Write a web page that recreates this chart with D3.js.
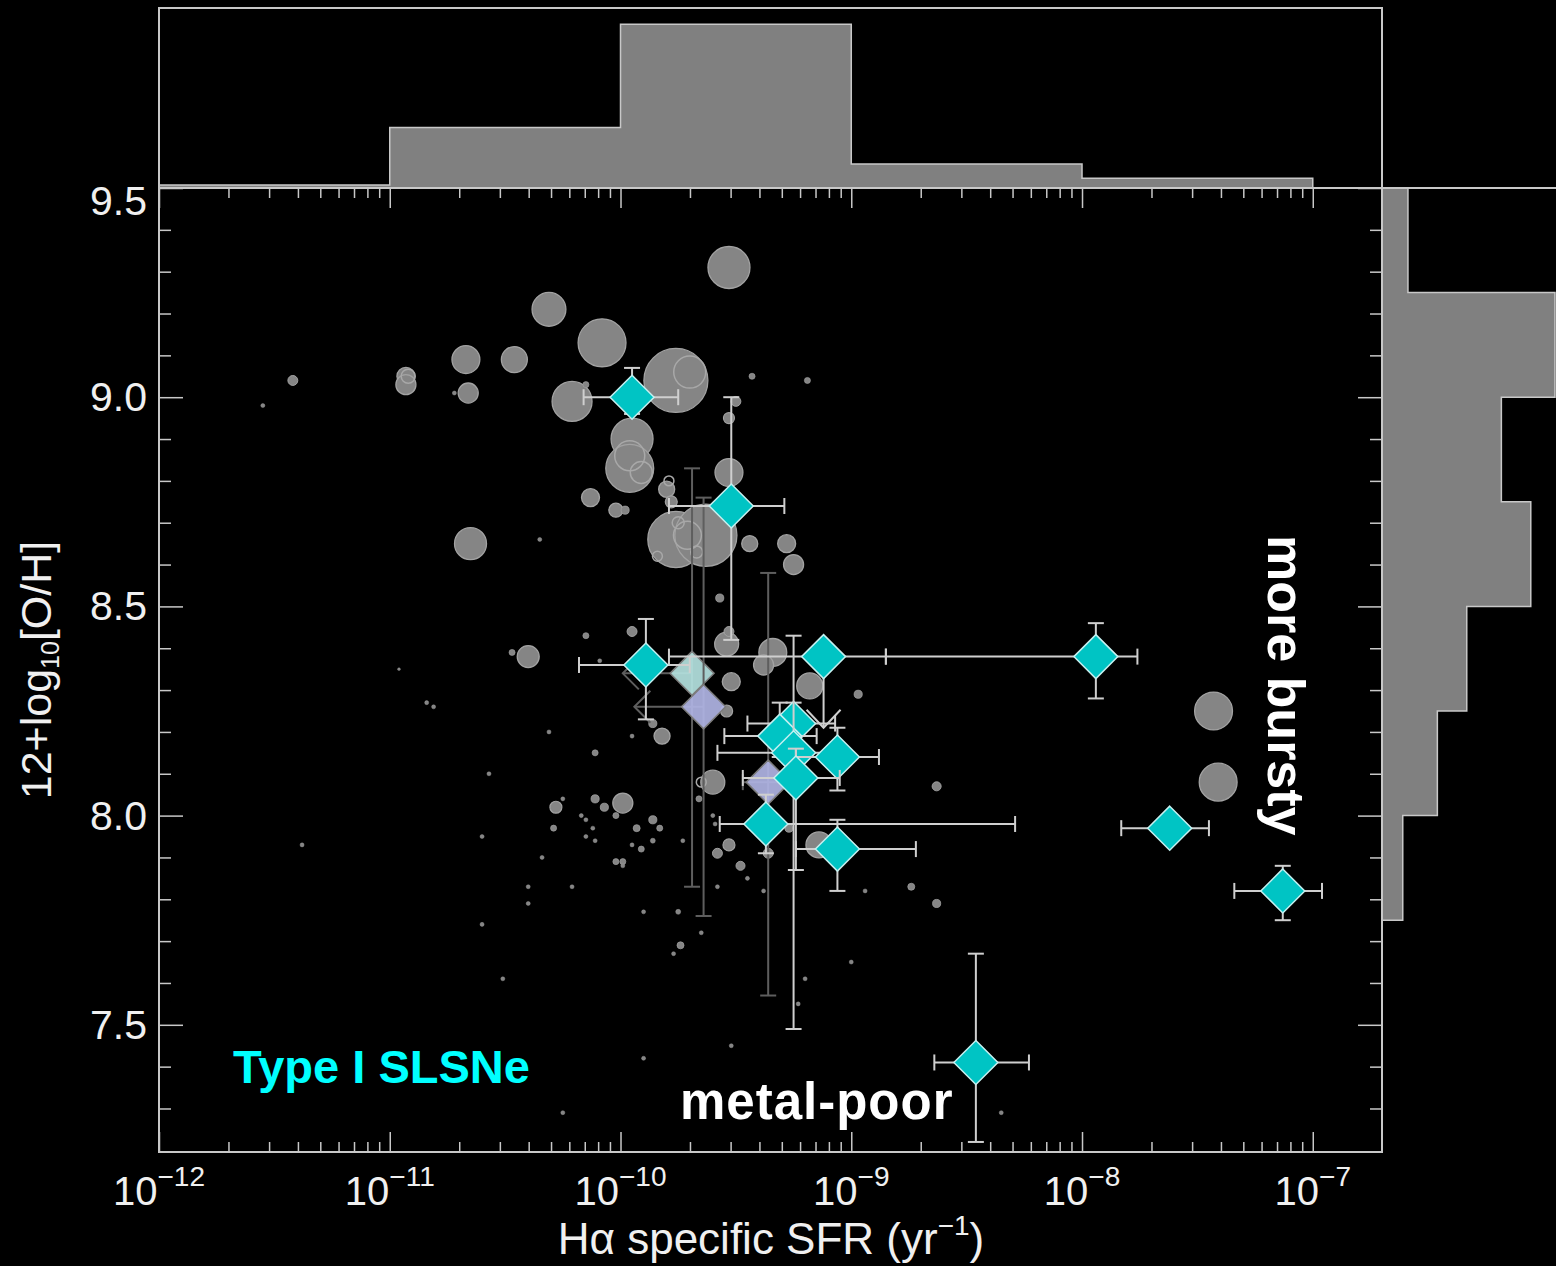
<!DOCTYPE html>
<html>
<head>
<meta charset="utf-8">
<script src="https://cdn.jsdelivr.net/npm/d3@7"></script>
<style>
  html, body { margin: 0; background: #000; }
  svg { display: block; }
</style>
</head>
<body>
<div id="chart"></div>
<script>
// ---------- data ----------
// axis ticks
const decades = [1e-12, 1e-11, 1e-10, 1e-9, 1e-8, 1e-7];
const decadeExponents = ["\u221212", "\u221211", "\u221210", "\u22129", "\u22128", "\u22127"];
const ohMajorTicks = [7.5, 8.0, 8.5, 9.0, 9.5];
const ohLabels = ["7.5", "8.0", "8.5", "9.0", "9.5"];

// top histogram (sSFR, normalised)
const sfrHistEdges = [1e-12, 1e-11, 1e-10, 1e-9, 1e-8, 1e-7];
const sfrHistValues = [0.018, 0.37, 1.0, 0.146, 0.06];

// side histogram (metallicity, normalised)
const ohHistEdges = [9.5, 9.25, 9.0, 8.75, 8.5, 8.25, 8.0, 7.75];
const ohHistValues = [0.15, 1.0, 0.69, 0.86, 0.49, 0.32, 0.12];

// comparison host galaxies (log sSFR, 12+log O/H, relative mass for bubble size)
const hostLogSsfr = [-9.53, -10.31, -10.08, -10.67, -10.46, -9.76, -10.93, -10.93, -10.66, -10.72,
  -10.21, -10.15, -9.95, -9.96, -9.43, -9.19, -9.50, -9.53, -9.53, -10.13,
  -10.02, -9.98, -9.80, -9.78, -10.65, -10.35, -9.76, -9.63, -9.44, -9.28,
  -9.25, -9.57, -11.42, -11.55, -10.96, -10.47, -10.40, -10.15, -10.09, -9.95,
  -9.54, -9.53, -9.34, -9.38, -9.52, -9.18, -8.97, -9.54, -9.82, -9.86,
  -9.95, -10.31, -10.11, -10.57, -10.84, -10.81, -9.60, -9.66, -10.28, -10.25,
  -10.11, -10.07, -9.99, -10.02, -10.17, -10.15, -10.29, -10.12, -10.15, -10.11,
  -9.93, -9.86, -9.83, -9.95, -9.91, -9.86, -10.02, -9.99, -9.99, -9.73,
  -9.60, -9.59, -9.58, -9.53, -9.48, -9.45, -9.36, -9.27, -9.14, -9.58,
  -9.38, -8.94, -10.40, -10.21, -10.40, -10.60, -10.60, -10.34, -9.90, -9.75,
  -9.65, -9.74, -9.77, -10.51, -9.20, -9.00, -11.38, -10.25, -9.90, -9.52,
  -8.35, -9.23, -8.74, -8.63, -8.63, -7.43, -7.41];
const hostOH = [9.31, 9.21, 9.13, 9.09, 9.09, 9.04, 9.05, 9.03, 9.01, 9.01,
  8.99, 9.03, 8.90, 8.83, 9.05, 9.04, 8.99, 8.95, 8.82, 8.76,
  8.73, 8.73, 8.78, 8.75, 8.65, 8.66, 8.66, 8.67, 8.65, 8.65,
  8.60, 8.52, 9.04, 8.98, 8.35, 8.39, 8.38, 8.43, 8.37, 8.44,
  8.41, 8.44, 8.39, 8.36, 8.32, 8.31, 8.29, 8.25, 8.19, 8.22,
  8.19, 8.20, 8.15, 8.10, 8.27, 8.26, 8.08, 8.04, 8.02, 8.04,
  8.04, 8.02, 8.03, 8.00, 8.00, 7.99, 7.97, 7.97, 7.95, 7.94,
  7.97, 7.99, 7.97, 7.93, 7.92, 7.94, 7.89, 7.89, 7.88, 7.94,
  8.00, 7.98, 7.91, 7.93, 7.88, 7.85, 7.91, 7.97, 7.93, 7.83,
  7.82, 7.82, 7.83, 7.83, 7.79, 7.95, 7.74, 7.90, 7.77, 7.77,
  7.72, 7.69, 7.67, 7.61, 7.61, 7.65, 7.93, 7.29, 7.42, 7.45,
  7.29, 7.55, 7.83, 7.79, 8.07, 8.25, 8.08];
const hostMass = [43, 28, 56, 19, 16.5, 100, 7.9, 9.8, 9.8, 0.4,
  39, 0.9, 43, 56, 0.9, 0.9, 2.4, 3, 19, 7.9,
  4.8, 1.6, 6.3, 3.5, 25, 0.4, 77, 94, 6.3, 7.9,
  9.8, 1.6, 2.4, 0.4, 0.2, 0.9, 11.8, 0.9, 0.4, 2.4,
  14, 2.4, 19, 9.8, 7.9, 16.5, 1.6, 3.5, 6.3, 1.6,
  0.4, 0.4, 0.9, 0.4, 0.4, 0.4, 14, 0.9, 3.5, 0.4,
  1.6, 1.6, 9.8, 0.9, 0.4, 0.4, 0.9, 0.4, 0.4, 0.4,
  1.2, 1.6, 0.9, 0.4, 0.9, 0.6, 0.9, 0.9, 0.4, 0.4,
  0.4, 0.4, 2.4, 3.5, 2, 0.4, 2.4, 1.6, 16.5, 0.4,
  0.4, 0.4, 0.4, 0.4, 0.4, 0.4, 0.4, 0.4, 0.4, 0.6,
  0.4, 1.2, 0.4, 0.4, 0.4, 0.4, 0.4, 0.4, 0.4, 0.4,
  0.4, 0.4, 1.2, 1.6, 2, 35, 35];

// overlapping hosts shown as outlines
const outlineLogSsfr = [-9.70, -10.92, -9.96, -9.91, -9.79, -9.71, -9.75, -9.67, -9.84, -9.65];
const outlineOH = [9.06, 9.05, 8.86, 8.82, 8.80, 8.67, 8.70, 8.63, 8.62, 8.08];
const outlineMass = [25, 4.8, 22, 11.8, 2.4, 19, 3.5, 3.5, 2.4, 2.4];

// Type I SLSN hosts (log sSFR with range, 12+log O/H with range)
const slsnLogSsfr = [-9.95, -9.52, -9.89, -9.12, -9.25, -9.31, -9.25, -9.06, -9.24, -9.37, -9.06, -7.94, -7.62, -7.13, -8.46];
const slsnLogSsfrLo = [-10.16, -9.79, -10.18, -9.79, -9.45, -9.55, -9.58, -9.24, -9.47, -9.57, -9.24, -8.85, -7.83, -7.34, -8.64];
const slsnLogSsfrHi = [-9.75, -9.29, -9.70, -8.85, -9.07, -9.15, -9.10, -8.88, -9.05, -8.29, -8.72, -7.76, -7.45, -6.96, -8.23];
const slsnOH = [9.00, 8.74, 8.36, 8.38, 8.22, 8.19, 8.15, 8.14, 8.09, 7.98, 7.92, 8.38, 7.97, 7.82, 7.41];
const slsnOHLo = [8.96, 8.42, 8.23, 8.21, 8.17, 8.14, 7.49, 8.06, 7.87, 7.91, 7.82, 8.28, 7.97, 7.75, 7.22];
const slsnOHHi = [9.07, 9.00, 8.47, 8.38, 8.27, 8.27, 8.43, 8.21, 8.16, 8.05, 7.99, 8.46, 7.97, 7.88, 7.67];
const slsnOHUpperLimit = [false, false, false, true, false, false, false, false, false, false, false, false, false, false, false];

// tentative hosts (pale symbols)
const paleLogSsfr = [-9.69, -9.64, -9.36];
const paleLogSsfrLimit = [-9.99, -9.94, null];
const paleLogSsfrLo = [null, null, -9.47];
const paleLogSsfrHi = [null, null, -9.25];
const paleOH = [8.34, 8.26, 8.08];
const paleOHLo = [7.83, 7.76, 7.57];
const paleOHHi = [8.83, 8.76, 8.58];
const paleColor = ["#b4e2e0", "#b0b4e4", "#b0b4e4"];

// ---------- chart ----------
const width = 1556, height = 1266;
const frame = "#c8c8c8";
const textColor = "#f0f0f0";

const svg = d3.select("#chart").append("svg")
  .attr("width", width)
  .attr("height", height)
  .style("background", "#000")
  .style("font-family", "'Liberation Sans', Arial, Helvetica, sans-serif");

const x = d3.scaleLog().domain([1e-12, 10 ** -6.7]).range([159, 1382]);
const y = d3.scaleLinear().domain([7.196, 9.5]).range([1152, 188]);
const rad = d3.scaleSqrt().domain([0, 100]).range([0, 32]);
const topH = d3.scaleLinear().domain([0, 1.1]).range([188, 8]);
const sideH = d3.scaleLinear().domain([0, 1]).range([1382, 1555]);
const lx = (v) => x(10 ** v);

// top histogram
const topPts = [[x(sfrHistEdges[0]), topH(0)]];
sfrHistValues.forEach((v, i) => {
  topPts.push([x(sfrHistEdges[i]), topH(v)], [x(sfrHistEdges[i + 1]), topH(v)]);
});
topPts.push([x(sfrHistEdges[sfrHistEdges.length - 1]), topH(0)]);
svg.append("path")
  .attr("d", d3.line()(topPts))
  .attr("fill", "#808080")
  .attr("stroke", frame)
  .attr("stroke-width", 1.5);

// side histogram
const sidePts = [[sideH(0), y(ohHistEdges[0])]];
ohHistValues.forEach((v, i) => {
  sidePts.push([sideH(v), y(ohHistEdges[i])], [sideH(v), y(ohHistEdges[i + 1])]);
});
sidePts.push([sideH(0), y(ohHistEdges[ohHistEdges.length - 1])]);
svg.append("path")
  .attr("d", d3.line()(sidePts))
  .attr("fill", "#808080")
  .attr("stroke", frame)
  .attr("stroke-width", 1.5);

// frames
svg.append("path")
  .attr("d", "M159,188V8H1382V188")
  .attr("fill", "none").attr("stroke", frame).attr("stroke-width", 2);
svg.append("line")
  .attr("x1", 1382).attr("x2", width).attr("y1", 188).attr("y2", 188)
  .attr("stroke", frame).attr("stroke-width", 2);
svg.append("rect")
  .attr("x", 159).attr("y", 188).attr("width", 1382 - 159).attr("height", 1152 - 188)
  .attr("fill", "none").attr("stroke", frame).attr("stroke-width", 2);

// tick marks (inward, all four sides)
const minorX = decades.slice(0, -1).flatMap((d) => d3.range(2, 10).map((k) => k * d));
const minorY = d3.range(73, 95).map((v) => v / 10).filter((v) => !ohMajorTicks.includes(v));

function ticks(axis, values, size, transform) {
  svg.append("g")
    .attr("transform", transform)
    .call(axis.tickValues(values).tickSize(size).tickFormat(""))
    .call((g) => g.select(".domain").remove())
    .call((g) => g.selectAll(".tick line").attr("stroke", frame).attr("stroke-width", 1.5));
}
ticks(d3.axisBottom(x), decades, -20, "translate(0,1152)");
ticks(d3.axisBottom(x), minorX, -10, "translate(0,1152)");
ticks(d3.axisTop(x), decades, -20, "translate(0,188)");
ticks(d3.axisTop(x), minorX, -10, "translate(0,188)");
ticks(d3.axisLeft(y), ohMajorTicks, -24, "translate(159,0)");
ticks(d3.axisLeft(y), minorY, -12, "translate(159,0)");
ticks(d3.axisRight(y), ohMajorTicks, -24, "translate(1382,0)");
ticks(d3.axisRight(y), minorY, -12, "translate(1382,0)");

// x tick labels 10^n
const xl = svg.append("g").attr("fill", textColor).attr("text-anchor", "middle");
decades.forEach((d, i) => {
  const t = xl.append("text").attr("x", x(d)).attr("y", 1205).attr("font-size", 40);
  t.append("tspan").text("10");
  t.append("tspan").attr("font-size", 28).attr("dy", -19).text(decadeExponents[i]);
});

// y tick labels
svg.append("g").attr("fill", textColor).attr("text-anchor", "end").attr("font-size", 41)
  .selectAll("text")
  .data(ohMajorTicks)
  .join("text")
  .attr("x", 147)
  .attr("y", (d) => y(d) + (d === 9.5 ? 27 : 14))
  .text((d, i) => ohLabels[i]);

// axis titles
const xt = svg.append("text")
  .attr("x", 771).attr("y", 1254)
  .attr("text-anchor", "middle").attr("font-size", 44).attr("fill", textColor);
xt.append("tspan").text("H\u03b1 specific SFR (yr");
xt.append("tspan").attr("font-size", 28).attr("dy", -19).text("\u22121");
xt.append("tspan").attr("dy", 19).text(")");

const yt = svg.append("text")
  .attr("transform", "translate(51,670) rotate(-90)")
  .attr("text-anchor", "middle").attr("font-size", 43).attr("fill", textColor);
yt.append("tspan").text("12+log");
yt.append("tspan").attr("font-size", 25).attr("dy", 8).text("10");
yt.append("tspan").attr("dy", -8).text("[O/H]");

// comparison hosts
const plot = svg.append("g");
plot.append("g")
  .selectAll("circle")
  .data(hostLogSsfr.map((s, i) => ({ s, oh: hostOH[i], m: hostMass[i] })))
  .join("circle")
  .attr("cx", (d) => lx(d.s))
  .attr("cy", (d) => y(d.oh))
  .attr("r", (d) => rad(d.m))
  .attr("fill", "#858585")
  .attr("stroke", "#a2a2a2")
  .attr("stroke-width", (d) => Math.min(1.3, rad(d.m) * 0.2));

plot.append("g")
  .selectAll("circle")
  .data(outlineLogSsfr.map((s, i) => ({ s, oh: outlineOH[i], m: outlineMass[i] })))
  .join("circle")
  .attr("cx", (d) => lx(d.s))
  .attr("cy", (d) => y(d.oh))
  .attr("r", (d) => rad(d.m))
  .attr("fill", "none")
  .attr("stroke", "#a8a8a8")
  .attr("stroke-width", 1.5);

const diamond = "M0,-22L22,0L0,22L-22,0Z";
const cap = 8;

function errBar(g, x1, y1, x2, y2, color) {
  g.append("line").attr("x1", x1).attr("y1", y1).attr("x2", x2).attr("y2", y2)
    .attr("stroke", color).attr("stroke-width", 2);
}
function vCap(g, cx, cy, color) {
  g.append("line").attr("x1", cx - cap).attr("x2", cx + cap).attr("y1", cy).attr("y2", cy)
    .attr("stroke", color).attr("stroke-width", 2);
}
function hCap(g, cx, cy, color) {
  g.append("line").attr("x1", cx).attr("x2", cx).attr("y1", cy - cap).attr("y2", cy + cap)
    .attr("stroke", color).attr("stroke-width", 2);
}

// pale (tentative) hosts
paleLogSsfr.forEach((s, i) => {
  const g = plot.append("g");
  const cx = lx(s), cy = y(paleOH[i]);
  const c = "#5e5e5e";
  errBar(g, cx, y(paleOHLo[i]), cx, y(paleOHHi[i]), c);
  vCap(g, cx, y(paleOHLo[i]), c);
  vCap(g, cx, y(paleOHHi[i]), c);
  if (paleLogSsfrLimit[i] !== null) {
    const ax = lx(paleLogSsfrLimit[i]);
    errBar(g, ax, cy, cx, cy, c);
    g.append("path")
      .attr("d", `M${ax + 16},${cy - 16}L${ax},${cy}L${ax + 16},${cy + 16}`)
      .attr("fill", "none").attr("stroke", c).attr("stroke-width", 2);
  } else {
    errBar(g, lx(paleLogSsfrLo[i]), cy, lx(paleLogSsfrHi[i]), cy, c);
    hCap(g, lx(paleLogSsfrLo[i]), cy, c);
  }
  g.append("path")
    .attr("d", diamond)
    .attr("transform", `translate(${cx},${cy})`)
    .attr("fill", paleColor[i])
    .attr("fill-opacity", 0.92)
    .attr("stroke", "#7c7c7c")
    .attr("stroke-width", 1.5);
});

// Type I SLSN hosts
slsnLogSsfr.forEach((s, i) => {
  const g = plot.append("g");
  const cx = lx(s), cy = y(slsnOH[i]);
  const c = "#cfcfcf";
  const xLo = lx(slsnLogSsfrLo[i]), xHi = lx(slsnLogSsfrHi[i]);
  errBar(g, xLo, cy, xHi, cy, c);
  hCap(g, xLo, cy, c);
  hCap(g, xHi, cy, c);
  const yLo = y(slsnOHLo[i]), yHi = y(slsnOHHi[i]);
  if (slsnOHUpperLimit[i]) {
    errBar(g, cx, cy, cx, yLo, c);
    g.append("path")
      .attr("d", `M${cx - 17},${yLo - 18}L${cx},${yLo}L${cx + 17},${yLo - 18}`)
      .attr("fill", "none").attr("stroke", c).attr("stroke-width", 2);
  } else if (yLo - yHi > 1) {
    errBar(g, cx, yLo, cx, yHi, c);
    vCap(g, cx, yLo, c);
    vCap(g, cx, yHi, c);
  }
  g.append("path")
    .attr("d", diamond)
    .attr("transform", `translate(${cx},${cy})`)
    .attr("fill", "#00c4c4")
    .attr("stroke", "#c4f0f0")
    .attr("stroke-width", 1.5);
});

// annotations
svg.append("text")
  .attr("x", 233).attr("y", 1083)
  .attr("font-size", 47).attr("font-weight", "bold").attr("fill", "#00ffff")
  .text("Type I SLSNe");

svg.append("text")
  .attr("x", 680).attr("y", 1119)
  .attr("font-size", 51).attr("font-weight", "bold").attr("fill", "#ffffff")
  .attr("letter-spacing", 1)
  .text("metal-poor");

svg.append("text")
  .attr("transform", "translate(1268,535) rotate(90)")
  .attr("font-size", 52).attr("font-weight", "bold").attr("fill", "#ffffff")
  .text("more bursty");
</script>
</body>
</html>
